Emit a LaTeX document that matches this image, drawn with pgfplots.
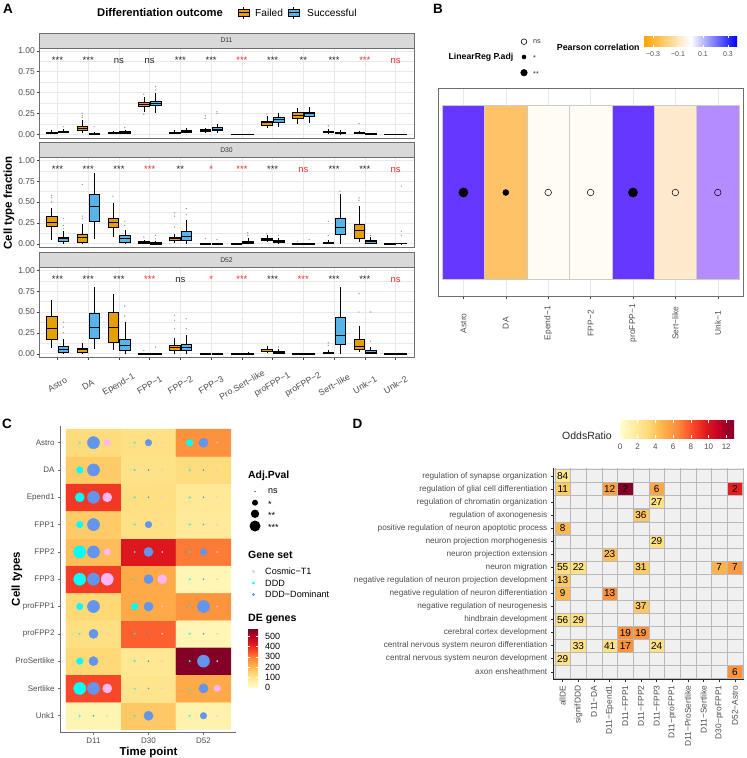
\documentclass[border=0pt]{standalone}
\usepackage{pgfplots}
\usepackage{pgfplotstable}
\pgfplotsset{compat=1.18}
\usepgfplotslibrary{statistics}
\usepackage{fontspec}
\setmainfont{Liberation Sans}
\newcommand{\fs}[1]{\fontsize{#1}{#1}\selectfont}
\definecolor{failc}{RGB}{230,159,0}
\definecolor{succc}{RGB}{86,180,233}
\definecolor{sigred}{RGB}{238,45,45}
\definecolor{txtg}{RGB}{77,77,77}
\definecolor{stripg}{RGB}{217,217,217}
\definecolor{frameg}{RGB}{110,110,110}
\definecolor{gridg}{RGB}{233,233,233}
\definecolor{yl1}{RGB}{255,255,204}
\definecolor{yl2}{RGB}{255,237,160}
\definecolor{yl3}{RGB}{254,217,118}
\definecolor{yl4}{RGB}{254,178,76}
\definecolor{yl5}{RGB}{253,141,60}
\definecolor{yl6}{RGB}{252,78,42}
\definecolor{yl7}{RGB}{227,26,28}
\definecolor{yl8}{RGB}{189,0,38}
\definecolor{yl9}{RGB}{128,0,38}
\definecolor{cosm}{RGB}{255,182,242}
\definecolor{dddc}{RGB}{0,255,255}
\definecolor{domc}{RGB}{100,149,237}
\definecolor{pearO}{RGB}{255,165,0}
\definecolor{bAstro}{RGB}{102,56,255}
\definecolor{bDA}{RGB}{255,194,102}
\definecolor{bEp}{RGB}{255,252,246}
\definecolor{bSe}{RGB}{255,234,205}
\definecolor{bUn}{RGB}{181,140,255}
\pgfplotsset{colormap={ylorrd}{rgb255=(255,255,204) rgb255=(255,237,160) rgb255=(254,217,118) rgb255=(254,178,76) rgb255=(253,141,60) rgb255=(252,78,42) rgb255=(227,26,28) rgb255=(189,0,38) rgb255=(128,0,38)}}
\pgfdeclarehorizontalshading{pearson}{100bp}{color(0bp)=(pearO); color(25bp)=(pearO); color(50bp)=(white); color(75bp)=(blue); color(100bp)=(blue)}
\pgfdeclarehorizontalshading{ylh}{100bp}{color(0bp)=(yl1); color(25bp)=(yl1); color(31.25bp)=(yl2); color(37.5bp)=(yl3); color(43.75bp)=(yl4); color(50bp)=(yl5); color(56.25bp)=(yl6); color(62.5bp)=(yl7); color(68.75bp)=(yl8); color(75bp)=(yl9); color(100bp)=(yl9)}
\pgfdeclareverticalshading{ylv}{100bp}{color(0bp)=(yl1); color(25bp)=(yl1); color(31.25bp)=(yl2); color(37.5bp)=(yl3); color(43.75bp)=(yl4); color(50bp)=(yl5); color(56.25bp)=(yl6); color(62.5bp)=(yl7); color(68.75bp)=(yl8); color(75bp)=(yl9); color(100bp)=(yl9)}

% Panel D enrichment table: column, row (16 = top), odds ratio, gene count
\pgfplotstableread{
x y o n
1 16 2.0 84
1 15 3.8 11
4 15 5.6 12
5 15 12.7 2
7 15 5.3 6
12 15 9.6 2
7 14 2.6 27
6 13 3.9 36
1 12 4.6 8
7 11 2.6 29
4 10 4.4 23
1 9 2.6 55
2 9 2.6 22
6 9 3.8 31
11 9 4.8 7
12 9 5.9 7
1 8 3.9 13
1 7 4.6 9
4 7 6.3 13
6 6 3.9 37
1 5 2.6 56
2 5 2.6 29
5 4 6.2 19
6 4 6.2 19
2 3 2.6 33
4 3 2.6 41
5 3 6.2 17
7 3 2.6 24
1 2 2.5 29
12 1 6.2 6
}\goterms

\pgfplotsset{
 pA/.style={scale only axis, width=375pt, height=90pt, anchor=north west,
  xmin=0.4, xmax=12.6, ymin=-0.045, ymax=1.033,
  xtick={1,...,12}, ytick={0,0.25,0.5,0.75,1}, yticklabels={0.00,0.25,0.50,0.75,1.00},
  minor ytick={0.125,0.375,0.625,0.875},
  xmajorgrids, ymajorgrids, yminorgrids,
  major grid style={gridg, line width=0.5pt}, minor grid style={gridg, line width=0.3pt},
  axis line style={frameg, line width=0.5pt},
  tick align=outside, tick pos=left, major tick length=2.5pt, minor tick length=0pt,
  tick style={black!75, line width=0.4pt},
  yticklabel style={font=\fs{8.5}, text=txtg, inner sep=1.5pt},
  /pgf/number format/assume math mode=true}
}
\newcommand{\bx}[8]{\addplot[draw=black, line width=0.35pt, mark=*, mark size=0.45pt, mark options={draw=gray!75, fill=gray!75},
 boxplot prepared={draw direction=y, draw position=#1, lower whisker=#2, lower quartile=#3, median=#4, upper quartile=#5, upper whisker=#6, box extend=0.34, whisker extend=0,
 every box/.style={draw=black, fill=#7, line width=0.35pt}, every whisker/.style={draw=black, line width=0.35pt}, every median/.style={draw=black, line width=1.0pt}}] coordinates {#8};}
\newcommand{\sg}[3]{\node[anchor=base, font=\fs{9.5}, text=#3, inner sep=0pt] at (axis cs:#1,0.85) {#2};}

\begin{document}
\begin{tikzpicture}
\useasboundingbox (0pt,0pt) rectangle (747pt,-758pt);
% ================= decorations =================
\begin{scope}[x=1pt,y=-1pt]
% ---- panel A
\node[font=\fs{13.5}\bfseries] at (8,8.5) {A};
\node[font=\fs{11.2}\bfseries, anchor=west, inner sep=0pt] at (97,12.5) {Differentiation outcome};
\draw[black, line width=0.35pt] (243.5,7) -- (243.5,18.5);
\filldraw[fill=failc, draw=black, line width=0.35pt] (238,9.5) rectangle (249,16);
\draw[line width=0.9pt] (238,12.75) -- (249,12.75);
\node[font=\fs{10.2}, anchor=west, inner sep=0pt] at (255,12.5) {Failed};
\draw[black, line width=0.35pt] (293.5,7) -- (293.5,18.5);
\filldraw[fill=succc, draw=black, line width=0.35pt] (288,9.5) rectangle (299,16);
\draw[line width=0.9pt] (288,12.75) -- (299,12.75);
\node[font=\fs{10.2}, anchor=west, inner sep=0pt] at (307,12.5) {Successful};
\filldraw[fill=stripg, draw=frameg, line width=0.5pt] (39,33) rectangle (414,48);
\filldraw[fill=stripg, draw=frameg, line width=0.5pt] (39,142.5) rectangle (414,157.5);
\filldraw[fill=stripg, draw=frameg, line width=0.5pt] (39,252.5) rectangle (414,267.5);
\node[font=\fs{6.8}, text=black!80] at (226.5,40.5) {D11};
\node[font=\fs{6.8}, text=black!80] at (226.5,150) {D30};
\node[font=\fs{6.8}, text=black!80] at (226.5,260) {D52};
\node[font=\fs{11.5}\bfseries, rotate=90] at (9,203) {Cell type fraction};
% ---- panel B
\node[font=\fs{13.5}\bfseries] at (438,8.5) {B};
\node[font=\fs{8.7}\bfseries, anchor=east, inner sep=0pt] at (513.5,57.3) {LinearReg P.adj};
\draw[black, line width=0.6pt] (524,41.7) circle (2.8);
\fill[black] (524,57) circle (2.3);
\fill[black] (524,72.7) circle (3.6);
\node[font=\fs{7.2}, text=black!80, anchor=west, inner sep=0pt] at (533,42) {ns};
\node[font=\fs{7.2}, text=black!80, anchor=west, inner sep=0pt] at (533,58.5) {*};
\node[font=\fs{7.2}, text=black!80, anchor=west, inner sep=0pt] at (533,74) {**};
\node[font=\fs{8.8}\bfseries, anchor=west, inner sep=0pt] at (556.7,47.7) {Pearson correlation};
\shade[shading=pearson] (644,36) rectangle (737,46.7);
\foreach \xx in {653,678,703,728} {\draw[white, line width=0.5pt] (\xx,36) -- (\xx,38.2); \draw[white, line width=0.5pt] (\xx,44.5) -- (\xx,46.7);}
\node[font=\fs{7}, text=txtg] at (653,54.5) {−0.3};
\node[font=\fs{7}, text=txtg] at (678,54.5) {−0.1};
\node[font=\fs{7}, text=txtg] at (703,54.5) {0.1};
\node[font=\fs{7}, text=txtg] at (728,54.5) {0.3};
% ---- panel C
\node[font=\fs{13.5}\bfseries] at (7,424) {C};
\node[font=\fs{11.5}\bfseries, rotate=90] at (17,579) {Cell types};
\node[font=\fs{10.4}\bfseries, anchor=west, inner sep=0pt] at (248,476) {Adj.Pval};
\fill[black] (255,491.5) circle (0.6);
\fill[black] (255,502.7) circle (3.0);
\fill[black] (255,513.8) circle (4.2);
\fill[black] (255,526) circle (5.5);
\node[font=\fs{9}, anchor=west, inner sep=0pt] at (268,491.5) {ns};
\node[font=\fs{9}, anchor=west, inner sep=0pt] at (268,504.5) {*};
\node[font=\fs{9}, anchor=west, inner sep=0pt] at (268,515.5) {**};
\node[font=\fs{9}, anchor=west, inner sep=0pt] at (268,527.5) {***};
\node[font=\fs{10.5}\bfseries, anchor=west, inner sep=0pt] at (248,555) {Gene set};
\fill[cosm] (253.3,571.5) circle (1.5);
\fill[dddc] (253.3,583) circle (1.5);
\fill[domc] (253.3,594.5) circle (1.5);
\node[font=\fs{9.1}, anchor=west, inner sep=0pt] at (265,571.5) {Cosmic−T1};
\node[font=\fs{9.1}, anchor=west, inner sep=0pt] at (265,583) {DDD};
\node[font=\fs{9.1}, anchor=west, inner sep=0pt] at (265,594.5) {DDD−Dominant};
\node[font=\fs{10.6}\bfseries, anchor=west, inner sep=0pt] at (248,619) {DE genes};
\shade[shading=ylv] (248,629.8) rectangle (258,687.8);
\foreach \yy/\lab in {687.8/0,677.45/100,667.1/200,656.75/300,646.4/400,636.05/500} {
 \draw[white, line width=0.5pt] (248,\yy) -- (250,\yy); \draw[white, line width=0.5pt] (256,\yy) -- (258,\yy);
 \node[font=\fs{9}, anchor=west, inner sep=0pt] at (265,\yy) {\lab};}
% ---- panel D
\node[font=\fs{13.5}\bfseries] at (357.5,424) {D};
\node[font=\fs{10.5}, text=black!85, anchor=west, inner sep=0pt] at (562,436) {OddsRatio};
\shade[shading=ylh] (620,420) rectangle (734,438);
\foreach \v in {0,2,4,6,8,10,12} {
 \draw[white, line width=0.5pt] ({620+8.85*\v},420) -- ({620+8.85*\v},423);
 \draw[white, line width=0.5pt] ({620+8.85*\v},435) -- ({620+8.85*\v},438);
 \node[font=\fs{8}, text=txtg] at ({620+8.85*\v},447) {\v};}
\end{scope}

% ================= Panel A: D11 =================
\begin{axis}[pA, at={(39pt,-48pt)}, xticklabels={}, xtick style={draw=none}]
\bx{0.81}{0.005}{0.015}{0.02}{0.027}{0.045}{failc}{}
\bx{1.19}{0.01}{0.022}{0.03}{0.04}{0.065}{succc}{(0,0.09)}
\bx{1.81}{0.01}{0.045}{0.07}{0.10}{0.17}{failc}{(0,0.2)(0,0.22)(0,0.25)}
\bx{2.19}{0}{0.002}{0.005}{0.01}{0.025}{succc}{(0,0.09)}
\bx{2.81}{0.005}{0.015}{0.02}{0.025}{0.04}{failc}{}
\bx{3.19}{0.005}{0.017}{0.025}{0.035}{0.055}{succc}{(0,0.08)}
\bx{3.81}{0.27}{0.335}{0.36}{0.385}{0.45}{failc}{(0,0.48)(0,0.24)}
\bx{4.19}{0.26}{0.345}{0.37}{0.40}{0.49}{succc}{(0,0.53)(0,0.57)}
\bx{4.81}{0.01}{0.018}{0.022}{0.03}{0.045}{failc}{}
\bx{5.19}{0.01}{0.025}{0.035}{0.05}{0.08}{succc}{}
\bx{5.81}{0.02}{0.04}{0.05}{0.06}{0.08}{failc}{(0,0.19)(0,0.22)}
\bx{6.19}{0.02}{0.045}{0.06}{0.08}{0.12}{succc}{(0,0.25)(0,0.27)}
\bx{6.81}{0}{0}{0.002}{0.004}{0.008}{failc}{}
\bx{7.19}{0}{0}{0.002}{0.004}{0.008}{succc}{}
\bx{7.81}{0.07}{0.11}{0.14}{0.16}{0.22}{failc}{(0,0.24)}
\bx{8.19}{0.09}{0.15}{0.18}{0.21}{0.26}{succc}{}
\bx{8.81}{0.12}{0.19}{0.22}{0.26}{0.32}{failc}{}
\bx{9.19}{0.14}{0.22}{0.25}{0.27}{0.33}{succc}{}
\bx{9.81}{0.005}{0.02}{0.03}{0.04}{0.06}{failc}{(0,0.1)}
\bx{10.19}{0}{0.008}{0.015}{0.025}{0.045}{succc}{}
\bx{10.81}{0}{0.01}{0.015}{0.022}{0.04}{failc}{(0,0.13)}
\bx{11.19}{0}{0.001}{0.004}{0.008}{0.02}{succc}{}
\bx{11.81}{0}{0}{0.001}{0.002}{0.004}{failc}{}
\bx{12.19}{0}{0}{0.001}{0.002}{0.004}{succc}{}
\sg{1}{***}{black!85}\sg{2}{***}{black!85}\sg{3}{ns}{black!85}\sg{4}{ns}{black!85}
\sg{5}{***}{black!85}\sg{6}{***}{black!85}\sg{7}{***}{sigred}\sg{8}{***}{black!85}
\sg{9}{**}{black!85}\sg{10}{***}{black!85}\sg{11}{***}{sigred}\sg{12}{ns}{sigred}
\end{axis}

% ================= Panel A: D30 =================
\begin{axis}[pA, at={(39pt,-157.5pt)}, xticklabels={}, xtick style={draw=none}]
\bx{0.81}{0.04}{0.21}{0.26}{0.33}{0.43}{failc}{(0,0.5)(0,0.55)(0,0.58)}
\bx{1.19}{0}{0.03}{0.06}{0.08}{0.15}{succc}{(0,0.18)(0,0.22)(0,0.3)}
\bx{1.81}{0}{0.02}{0.07}{0.12}{0.24}{failc}{(0,0.3)(0,0.33)(0,0.71)}
\bx{2.19}{0.06}{0.27}{0.45}{0.59}{0.85}{succc}{}
\bx{2.81}{0.08}{0.20}{0.25}{0.31}{0.49}{failc}{(0,0.57)}
\bx{3.19}{0}{0.02}{0.06}{0.10}{0.17}{succc}{(0,0.22)(0,0.27)}
\bx{3.81}{0}{0.005}{0.015}{0.025}{0.05}{failc}{(0,0.08)}
\bx{4.19}{0}{0}{0.005}{0.015}{0.035}{succc}{(0,0.06)(0,0.1)}
\bx{4.81}{0.01}{0.04}{0.06}{0.08}{0.12}{failc}{(0,0.2)(0,0.33)(0,0.37)}
\bx{5.19}{0}{0.04}{0.09}{0.15}{0.28}{succc}{(0,0.35)(0,0.42)}
\bx{5.81}{0}{0}{0.002}{0.005}{0.01}{failc}{(0,0.06)}
\bx{6.19}{0}{0}{0.002}{0.005}{0.01}{succc}{(0,0.05)}
\bx{6.81}{0}{0}{0.002}{0.004}{0.01}{failc}{}
\bx{7.19}{0}{0.005}{0.02}{0.035}{0.07}{succc}{(0,0.1)(0,0.13)}
\bx{7.81}{0.015}{0.04}{0.055}{0.065}{0.1}{failc}{(0,0.12)}
\bx{8.19}{0}{0.015}{0.025}{0.04}{0.07}{succc}{(0,0.1)}
\bx{8.81}{0}{0}{0.001}{0.002}{0.005}{failc}{(0,0.03)}
\bx{9.19}{0}{0}{0.001}{0.003}{0.006}{succc}{(0,0.05)}
\bx{9.81}{0}{0.005}{0.01}{0.02}{0.04}{failc}{(0,0.1)(0,0.27)}
\bx{10.19}{0}{0.11}{0.19}{0.31}{0.60}{succc}{(0,0.63)}
\bx{10.81}{0.02}{0.07}{0.16}{0.24}{0.45}{failc}{(0,0.52)(0,0.55)}
\bx{11.19}{0}{0.01}{0.025}{0.04}{0.08}{succc}{(0,0.1)}
\bx{11.81}{0}{0}{0.001}{0.002}{0.004}{failc}{}
\bx{12.19}{0}{0.001}{0.003}{0.006}{0.012}{succc}{(0,0.1)(0,0.15)(0,0.69)}
\sg{1}{***}{black!85}\sg{2}{***}{black!85}\sg{3}{***}{black!85}\sg{4}{***}{sigred}
\sg{5}{**}{black!85}\sg{6}{*}{sigred}\sg{7}{***}{sigred}\sg{8}{***}{black!85}
\sg{9}{ns}{sigred}\sg{10}{***}{black!85}\sg{11}{***}{black!85}\sg{12}{ns}{sigred}
\end{axis}

% ================= Panel A: D52 =================
\begin{axis}[pA, at={(39pt,-267.5pt)},
 xticklabels={Astro,DA,Epend−1,FPP−1,FPP−2,FPP−3,Pro.Sert−like,proFPP−1,proFPP−2,Sert−like,Unk−1,Unk−2},
 xticklabel style={yshift=-25pt, rotate=30, anchor=center, font=\fs{8.8}, text=txtg}]
\bx{0.81}{0.07}{0.17}{0.30}{0.45}{0.64}{failc}{}
\bx{1.19}{0}{0.02}{0.05}{0.09}{0.18}{succc}{(0,0.25)(0,0.32)(0,0.38)}
\bx{1.81}{0}{0.02}{0.05}{0.07}{0.13}{failc}{}
\bx{2.19}{0.06}{0.19}{0.31}{0.48}{0.80}{succc}{}
\bx{2.81}{0.04}{0.14}{0.32}{0.50}{0.71}{failc}{}
\bx{3.19}{0}{0.04}{0.10}{0.18}{0.38}{succc}{(0,0.45)(0,0.57)}
\bx{3.81}{0}{0}{0.003}{0.006}{0.012}{failc}{(0,0.04)}
\bx{4.19}{0}{0}{0.003}{0.006}{0.012}{succc}{(0,0.08)}
\bx{4.81}{0}{0.04}{0.07}{0.10}{0.19}{failc}{(0,0.3)(0,0.4)(0,0.46)}
\bx{5.19}{0}{0.04}{0.08}{0.12}{0.23}{succc}{(0,0.3)(0,0.42)}
\bx{5.81}{0}{0}{0.001}{0.002}{0.004}{failc}{}
\bx{6.19}{0}{0}{0.001}{0.002}{0.004}{succc}{}
\bx{6.81}{0}{0}{0.001}{0.002}{0.004}{failc}{}
\bx{7.19}{0}{0}{0.005}{0.01}{0.025}{succc}{}
\bx{7.81}{0.01}{0.03}{0.05}{0.06}{0.09}{failc}{}
\bx{8.19}{0}{0.005}{0.015}{0.025}{0.06}{succc}{(0,0.08)}
\bx{8.81}{0}{0}{0.001}{0.002}{0.004}{failc}{}
\bx{9.19}{0}{0}{0.001}{0.002}{0.004}{succc}{}
\bx{9.81}{0}{0.005}{0.01}{0.02}{0.04}{failc}{(0,0.1)(0,0.13)}
\bx{10.19}{0}{0.12}{0.22}{0.44}{0.80}{succc}{}
\bx{10.81}{0.02}{0.05}{0.09}{0.17}{0.33}{failc}{(0,0.5)(0,0.72)}
\bx{11.19}{0}{0.01}{0.02}{0.04}{0.08}{succc}{(0,0.15)(0,0.5)}
\bx{11.81}{0}{0}{0.001}{0.002}{0.004}{failc}{}
\bx{12.19}{0}{0}{0.001}{0.002}{0.004}{succc}{}
\sg{1}{***}{black!85}\sg{2}{***}{black!85}\sg{3}{***}{black!85}\sg{4}{***}{sigred}
\sg{5}{ns}{black!85}\sg{6}{*}{sigred}\sg{7}{***}{sigred}\sg{8}{***}{black!85}
\sg{9}{***}{sigred}\sg{10}{***}{black!85}\sg{11}{***}{black!85}\sg{12}{ns}{sigred}
\end{axis}

% ================= Panel B =================
\begin{axis}[at={(438pt,-88.3pt)}, anchor=north west, scale only axis, width=305.2pt, height=208.4pt,
 xmin=0.4, xmax=7.6, ymin=0.4, ymax=1.6,
 xtick={1,...,7}, xticklabels={Astro,DA,Epend−1,FPP−2,proFPP−1,Sert−like,Unk−1},
 ytick=\empty, xmajorgrids, major grid style={gridg, line width=0.5pt},
 axis line style={frameg, line width=0.5pt}, tick align=outside, tick pos=left,
 major tick length=2.5pt, tick style={black!75, line width=0.4pt},
 xticklabel style={yshift=-24pt, rotate=90, anchor=center, font=\fs{8.4}, text=txtg}]
\addplot[fill=bAstro, draw=gray!40, line width=0.4pt] coordinates {(0.5,0.5)(1.5,0.5)(1.5,1.5)(0.5,1.5)} -- cycle;
\addplot[fill=bDA, draw=gray!40, line width=0.4pt] coordinates {(1.5,0.5)(2.5,0.5)(2.5,1.5)(1.5,1.5)} -- cycle;
\addplot[fill=bEp, draw=gray!40, line width=0.4pt] coordinates {(2.5,0.5)(3.5,0.5)(3.5,1.5)(2.5,1.5)} -- cycle;
\addplot[fill=bEp, draw=gray!40, line width=0.4pt] coordinates {(3.5,0.5)(4.5,0.5)(4.5,1.5)(3.5,1.5)} -- cycle;
\addplot[fill=bAstro, draw=gray!40, line width=0.4pt] coordinates {(4.5,0.5)(5.5,0.5)(5.5,1.5)(4.5,1.5)} -- cycle;
\addplot[fill=bSe, draw=gray!40, line width=0.4pt] coordinates {(5.5,0.5)(6.5,0.5)(6.5,1.5)(5.5,1.5)} -- cycle;
\addplot[fill=bUn, draw=gray!40, line width=0.4pt] coordinates {(6.5,0.5)(7.5,0.5)(7.5,1.5)(6.5,1.5)} -- cycle;
\addplot[only marks, mark=*, mark size=4.6pt, black] coordinates {(1,1) (5,1)};
\addplot[only marks, mark=*, mark size=3pt, black] coordinates {(2,1)};
\addplot[only marks, mark=o, mark size=3.3pt, black, mark options={line width=0.5pt}] coordinates {(3,1) (4,1) (6,1) (7,1)};
\end{axis}

% ================= Panel C =================
\begin{axis}[at={(60.5pt,-426.3pt)}, anchor=north west, scale only axis, width=176pt, height=305.8pt,
 xmin=0.4, xmax=3.6, ymin=0.4, ymax=11.6,
 axis x line*=bottom, axis y line*=left, axis line style={frameg, line width=0.6pt},
 tick align=outside, major tick length=2.5pt, tick style={frameg, line width=0.5pt},
 xtick={1,2,3}, xticklabels={D11,D30,D52}, ytick={1,...,11},
 yticklabels={Unk1,Sertlike,ProSertlike,proFPP2,proFPP1,FPP3,FPP2,FPP1,Epend1,DA,Astro},
 ticklabel style={font=\fs{8}, text=txtg},
 xlabel={Time point}, label style={font=\fs{11.5}\bfseries},
 xlabel style={yshift=4pt},
 colormap name=ylorrd, point meta min=0, point meta max=560]
\addplot[matrix plot*, mesh/cols=3, point meta=explicit] table[meta=v] {
x y v
1 1 40
2 1 170
3 1 50
1 2 360
2 2 100
3 2 225
1 3 140
2 3 90
3 3 555
1 4 120
2 4 330
3 4 35
1 5 140
2 5 225
3 5 265
1 6 375
2 6 225
3 6 35
1 7 190
2 7 430
3 7 300
1 8 165
2 8 115
3 8 80
1 9 380
2 9 120
3 9 85
1 10 165
2 10 110
3 10 125
1 11 130
2 11 115
3 11 270
};
% DDD
\addplot[scatter, only marks, mark=*, scatter/use mapped color={draw=dddc, fill=dddc},
 visualization depends on={\thisrow{r} \as \rr},
 scatter/@pre marker code/.append style={/tikz/mark size=\rr}] table {
x y r
0.75 11 0.6
1.75 11 0.6
2.75 11 3.3
0.75 10 3.3
1.75 10 0.6
2.75 10 0.6
0.75 9 4.6
1.75 9 0.6
2.75 9 0.6
0.75 8 3.3
1.75 8 0.6
2.75 8 0.6
0.75 7 6.1
1.75 7 0.6
2.75 7 0.6
0.75 6 6.1
1.75 6 0.6
2.75 6 0.6
0.75 5 3.3
1.75 5 3.3
2.75 5 0.6
0.75 4 0.6
1.75 4 0.6
2.75 4 0.6
0.75 3 3.3
1.75 3 0.6
2.75 3 0.6
0.75 2 6.1
1.75 2 0.6
2.75 2 0.6
0.75 1 0.6
1.75 1 0.6
2.75 1 0.6
};
% DDD-Dominant
\addplot[scatter, only marks, mark=*, scatter/use mapped color={draw=domc, fill=domc},
 visualization depends on={\thisrow{r} \as \rr},
 scatter/@pre marker code/.append style={/tikz/mark size=\rr}] table {
x y r
1 11 6.1
2 11 3.3
3 11 4.6
1 10 6.1
2 10 0.6
3 10 0.6
1 9 6.1
2 9 0.6
3 9 0.6
1 8 6.1
2 8 3.3
3 8 0.6
1 7 6.1
2 7 4.6
3 7 3.3
1 6 6.1
2 6 4.6
3 6 0.6
1 5 6.1
2 5 4.6
3 5 6.1
1 4 4.6
2 4 0.6
3 4 0.6
1 3 4.6
2 3 0.6
3 3 6.1
1 2 6.1
2 2 0.6
3 2 4.6
1 1 0.6
2 1 4.6
3 1 3.3
};
% Cosmic-T1
\addplot[scatter, only marks, mark=*, scatter/use mapped color={draw=cosm, fill=cosm},
 visualization depends on={\thisrow{r} \as \rr},
 scatter/@pre marker code/.append style={/tikz/mark size=\rr}] table {
x y r
1.25 11 3.3
2.25 11 0.6
3.25 11 0.6
1.25 10 0.6
2.25 10 0.6
3.25 10 0.6
1.25 9 4.6
2.25 9 0.6
3.25 9 0.6
1.25 8 0.6
2.25 8 0.6
3.25 8 0.6
1.25 7 3.3
2.25 7 0.6
3.25 7 0.6
1.25 6 6.1
2.25 6 4.6
3.25 6 0.6
1.25 5 0.6
2.25 5 0.6
3.25 5 0.6
1.25 4 0.6
2.25 4 0.6
3.25 4 0.6
1.25 3 0.6
2.25 3 0.6
3.25 3 0.6
1.25 2 4.6
2.25 2 0.6
3.25 2 3.3
1.25 1 0.6
2.25 1 0.6
3.25 1 0.6
};
\end{axis}

% ================= Panel D =================
\begin{axis}[at={(553.3pt,-468.2pt)}, anchor=north west, scale only axis, width=191pt, height=211.4pt,
 xmin=0.4, xmax=12.6, ymin=0.4, ymax=16.6,
 axis background/.style={fill=gray!12},
 axis x line*=bottom, axis y line*=left, axis line style={black!85, line width=0.6pt},
 tick align=outside, major tick length=2.5pt, minor tick length=0pt, tick style={black!80, line width=0.5pt},
 xtick={1,...,12}, ytick={1,...,16},
 minor xtick={0.5,1.5,...,12.5}, minor ytick={0.5,1.5,...,16.5},
 xminorgrids, yminorgrids, minor grid style={gray!55, line width=0.35pt},
 xticklabels={allDE,signifDDD,D11−DA,D11−Epend1,D11−FPP1,D11−FPP2,D11−FPP3,D11−proFPP1,D11−ProSertlike,D11−Sertlike,D30−proFPP1,D52−Astro},
 yticklabels={axon ensheathment,central nervous system neuron development,central nervous system neuron differentiation,cerebral cortex development,hindbrain development,negative regulation of neurogenesis,negative regulation of neuron differentiation,negative regulation of neuron projection development,neuron migration,neuron projection extension,neuron projection morphogenesis,positive regulation of neuron apoptotic process,regulation of axonogenesis,regulation of chromatin organization,regulation of glial cell differentiation,regulation of synapse organization},
 xticklabel style={rotate=90, anchor=east, font=\fs{8.4}, text=txtg},
 yticklabel style={font=\fs{8.2}, text=txtg},
 colormap name=ylorrd, point meta min=0, point meta max=12.9]
\addplot[scatter, only marks, mark=square*, mark size=6.45pt, mark options={xscale=1.2}, point meta=explicit,
 scatter/use mapped color={draw=gray!55, fill=mapped color}] table[meta=o] {\goterms};
\addplot[only marks, mark=*, mark size=0.01pt, mark options={draw=none, fill=none}, point meta=explicit symbolic,
 nodes near coords, nodes near coords align=center,
 every node near coord/.append style={font=\fs{10}, text=black, inner sep=0pt}] table[meta=n] {\goterms};
\end{axis}
\end{tikzpicture}
\end{document}
